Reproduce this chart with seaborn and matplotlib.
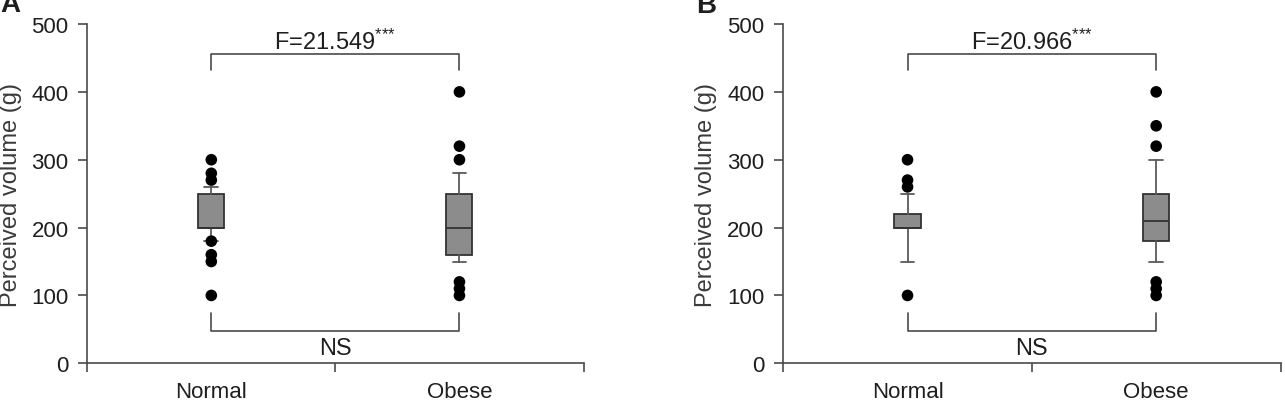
import matplotlib
matplotlib.use('Agg')
import matplotlib.pyplot as plt
import seaborn as sns
import pandas as pd

# groups and box statistics
groups = ['Normal', 'Obese']

# panel A
q1_a = [200, 160]
med_a = [200, 200]
q3_a = [250, 250]
whislo_a = [180, 150]
whishi_a = [260, 280]
out_a_normal = [300, 280, 270, 180, 160, 150, 100]
out_a_obese = [400, 320, 300, 120, 110, 100]
f_a = 'F=21.549'

# panel B
q1_b = [200, 180]
med_b = [200, 210]
q3_b = [220, 250]
whislo_b = [150, 150]
whishi_b = [250, 300]
out_b_normal = [300, 270, 260, 100]
out_b_obese = [400, 350, 320, 120, 110, 100]
f_b = 'F=20.966'

y_ticks = [0, 100, 200, 300, 400, 500]

sns.set_theme(style='ticks')
plt.rcParams['font.family'] = ['Liberation Sans', 'DejaVu Sans']
plt.rcParams['mathtext.default'] = 'regular'

line_col = '#4a4a4a'
text_col = '#1e1e1e'


def draw_panel(ax, q1, med, q3, wlo, whi, out_normal, out_obese, ftext):
    stats = []
    for i in range(len(groups)):
        stats.append({'q1': q1[i], 'med': med[i], 'q3': q3[i],
                      'whislo': wlo[i], 'whishi': whi[i], 'fliers': []})
    ax.bxp(stats, positions=[0, 1], widths=0.105, capwidths=0.055,
           showfliers=False, patch_artist=True,
           boxprops=dict(facecolor='#8c8c8c', edgecolor='#333333', linewidth=1.3),
           medianprops=dict(color='#333333', linewidth=1.3),
           whiskerprops=dict(color='#5a5a5a', linewidth=1.3),
           capprops=dict(color='#5a5a5a', linewidth=1.3),
           manage_ticks=False)

    pts = pd.DataFrame({
        'x': [0] * len(out_normal) + [1] * len(out_obese),
        'y': out_normal + out_obese,
    })
    sns.scatterplot(data=pts, x='x', y='y', color='black', s=70,
                    edgecolor='none', ax=ax, zorder=5)

    # significance brackets
    ax.plot([0, 0, 1, 1], [432, 456, 456, 432], color=line_col, lw=1.2, clip_on=False)
    ax.text(0.5, 464, ftext + r'$^{{*}{*}{*}}$', ha='center', va='baseline',
            fontsize=17, color=text_col)
    ax.plot([0, 0, 1, 1], [74, 48, 48, 74], color=line_col, lw=1.2)
    ax.text(0.5, 23, 'NS', ha='center', va='center', fontsize=17, color=text_col)

    ax.set_xlim(-0.5, 1.5)
    ax.set_ylim(0, 500)
    ax.set_yticks(y_ticks)
    ax.set_xticks([0, 1])
    ax.set_xticklabels(groups)
    ax.set_xticks([-0.5, 0.5, 1.5], minor=True)
    ax.tick_params(axis='x', which='major', length=0, pad=13, labelsize=16,
                   labelcolor=text_col)
    ax.tick_params(axis='x', which='minor', length=6.5, width=1.2, color=line_col,
                   direction='out')
    ax.tick_params(axis='y', length=6.5, width=1.2, color=line_col, pad=7,
                   labelsize=16, labelcolor=text_col)
    ax.set_xlabel('')
    ax.set_ylabel('Perceived volume (g)', fontsize=17, color='#3a3a3a', labelpad=7)
    sns.despine(ax=ax)
    for side in ['left', 'bottom']:
        ax.spines[side].set_color(line_col)
        ax.spines[side].set_linewidth(1.2)


fig = plt.figure(figsize=(12.85, 4.06), dpi=100)
ax_a = fig.add_axes([0.0679, 0.1027, 0.3862, 0.8357])
ax_b = fig.add_axes([0.6095, 0.1027, 0.3870, 0.8357])

draw_panel(ax_a, q1_a, med_a, q3_a, whislo_a, whishi_a, out_a_normal, out_a_obese, f_a)
draw_panel(ax_b, q1_b, med_b, q3_b, whislo_b, whishi_b, out_b_normal, out_b_obese, f_b)

# panel letters sit partly above the top edge, as in the source
fig.text(0.0, 1 - 12 / 406, 'A', fontsize=20, fontweight='bold', color=text_col,
         ha='left', va='baseline')
fig.text(696 / 1285, 1 - 13 / 406, 'B', fontsize=20, fontweight='bold', color=text_col,
         ha='left', va='baseline')

fig.savefig('out.png', dpi=100)
